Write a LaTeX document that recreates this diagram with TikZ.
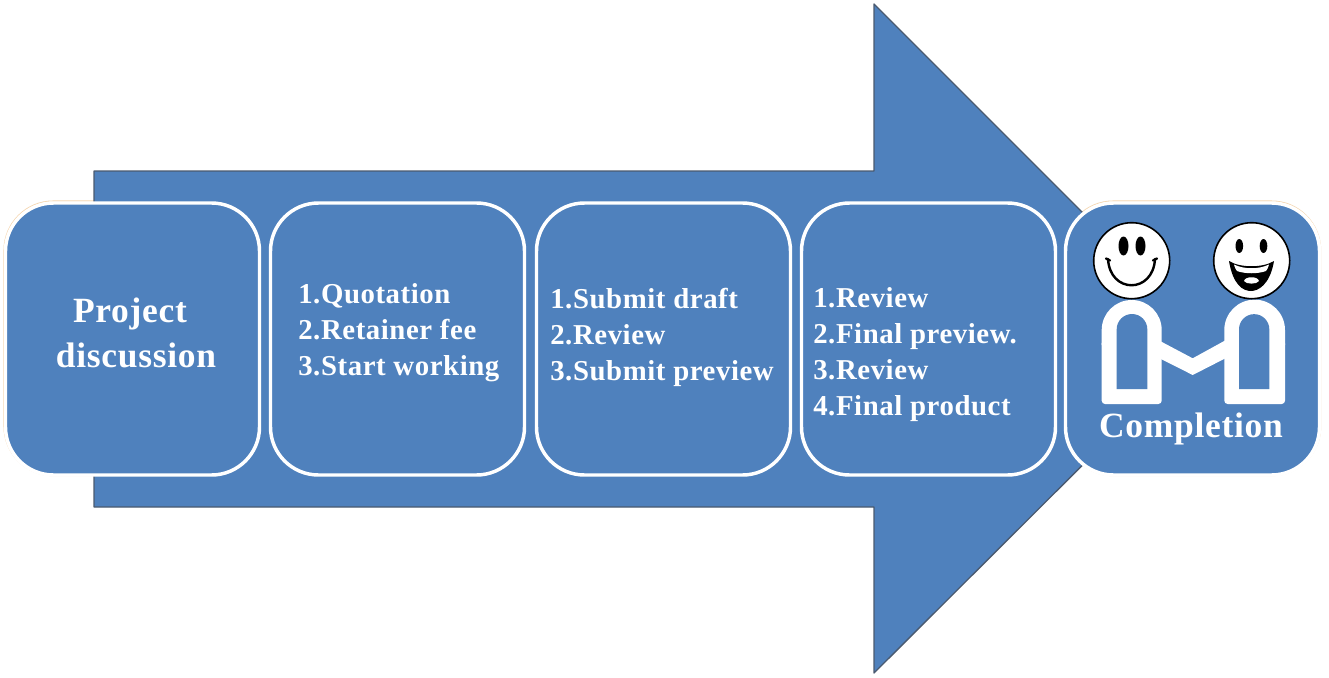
\documentclass[tikz,border=0pt]{standalone}
\usepackage{fontspec}
\setmainfont{Liberation Serif}[LetterSpace=2]
\definecolor{fillblue}{HTML}{4F81BD}
\definecolor{edgegray}{HTML}{4A5A70}
\definecolor{halo}{HTML}{F5D5AE}
\tikzset{
  x=0.75pt,y=-0.75pt,
  stagebox/.style={draw=white,line width=2.6pt,fill=fillblue,rounded corners=36pt,minimum width=190.5pt,minimum height=204pt,inner sep=0pt,outer sep=0pt,anchor=north west},
  halobox/.style={draw=halo,line width=0.8pt,rounded corners=37pt,minimum width=192.5pt,minimum height=206pt,inner sep=0pt,outer sep=0pt,anchor=north west},
  big/.style={text=white,font=\bfseries\fontsize{26.6}{32.3}\selectfont,align=center,inner sep=0pt},
  steps/.style={text=white,font=\bfseries\fontsize{21.6}{27}\selectfont,align=left,inner sep=0pt,anchor=west},
  face/.style={draw=black,line width=1.2pt,fill=white},
}
\begin{document}
\begin{tikzpicture}
\useasboundingbox (0,0) rectangle (1329,678);
\fill[white] (0,0) rectangle (1329,678);
\node[halobox] (ha) at (4,201) {};
\node[halobox] (he) at (1064,201) {};
\draw[draw=edgegray,line width=1pt,fill=fillblue,line join=round]
 (94,171) -- (874,171) -- (874,4) -- (1209,339) -- (874,673) -- (874,507) -- (94,507) -- cycle;
\foreach \n/\xx in {a/5.5,b/270.5,c/536.5,d/801.5,e/1065.5}{
  \node[stagebox] (\n) at (\xx,203) {};
}
\node[big] (t1) at (133,333) {Project\hspace*{4.5pt}\\[1pt]\hspace*{4.5pt}discussion};
\node[steps] (t2) at (298,333) {1.Quotation\\2.Retainer fee\\3.Start working};
\node[steps] (t3) at (550,337) {1.Submit draft\\2.Review\\3.Submit preview};
\node[steps] (t4) at (813,355) {1.Review\\2.Final preview.\\3.Review\\4.Final product};
\node[big] (t5) at (1191,429) {Completion};
% people
\fill[white,rounded corners=2.5pt] (1101.7,340) rectangle (1161.7,404);
\fill[white] (1101.7,330) arc[start angle=180,end angle=360,radius=30] -- (1161.7,345) -- (1101.7,345) -- cycle;
\fill[fillblue] (1116.7,389) -- (1116.7,329.3) arc[start angle=180,end angle=360,radius=15.3] -- (1147.3,389) -- cycle;
\fill[white,rounded corners=2.5pt] (1224.3,340) rectangle (1285,404);
\fill[white] (1224.3,330) arc[start angle=180,end angle=360,radius=30.35] -- (1285,345) -- (1224.3,345) -- cycle;
\fill[fillblue] (1239,389) -- (1239,329.3) arc[start angle=180,end angle=360,radius=15.15] -- (1269.3,389) -- cycle;
\fill[white,line join=round] (1160,341) -- (1192.7,358.3) -- (1226,340) -- (1226,358) -- (1192.7,375) -- (1160,358.5) -- cycle;
% smiling face
\draw[face] (1131.7,260.7) circle[radius=38];
\fill[black] (1123.5,246) ellipse[x radius=5,y radius=9.5];
\fill[black] (1140.5,246) ellipse[x radius=5,y radius=9.5];
\draw[black,line width=1.8pt,line cap=round] (1108,259) .. controls (1110,294) and (1153,294) .. (1155,259);
\draw[black,line width=1.8pt,line cap=round] (1106,258.5) -- (1110,260.5) (1157,258.5) -- (1153,260.5);
% laughing face
\draw[face] (1251.7,260.7) circle[radius=38];
\fill[black] (1239.3,246) ellipse[x radius=3.8,y radius=7];
\fill[black] (1263.5,246) ellipse[x radius=3.8,y radius=7];
\fill[black] (1229,261) .. controls (1240,268) and (1263,268) .. (1274,261) .. controls (1270,285) and (1258,291) .. (1251,291) .. controls (1243,291) and (1233,285) .. (1229,261) -- cycle;
\fill[white] (1234,264.5) .. controls (1244,269.5) and (1259,269.5) .. (1269,264.5) .. controls (1268,268) and (1267,270) .. (1266,271) .. controls (1258,274) and (1245,274) .. (1237,271) .. controls (1236,270) and (1235,268) .. (1234,264.5) -- cycle;
\fill[white] (1244,281) .. controls (1245,276) and (1258,276) .. (1259,281) .. controls (1257,284.5) and (1246,284.5) .. (1244,281) -- cycle;
\end{tikzpicture}
\end{document}
